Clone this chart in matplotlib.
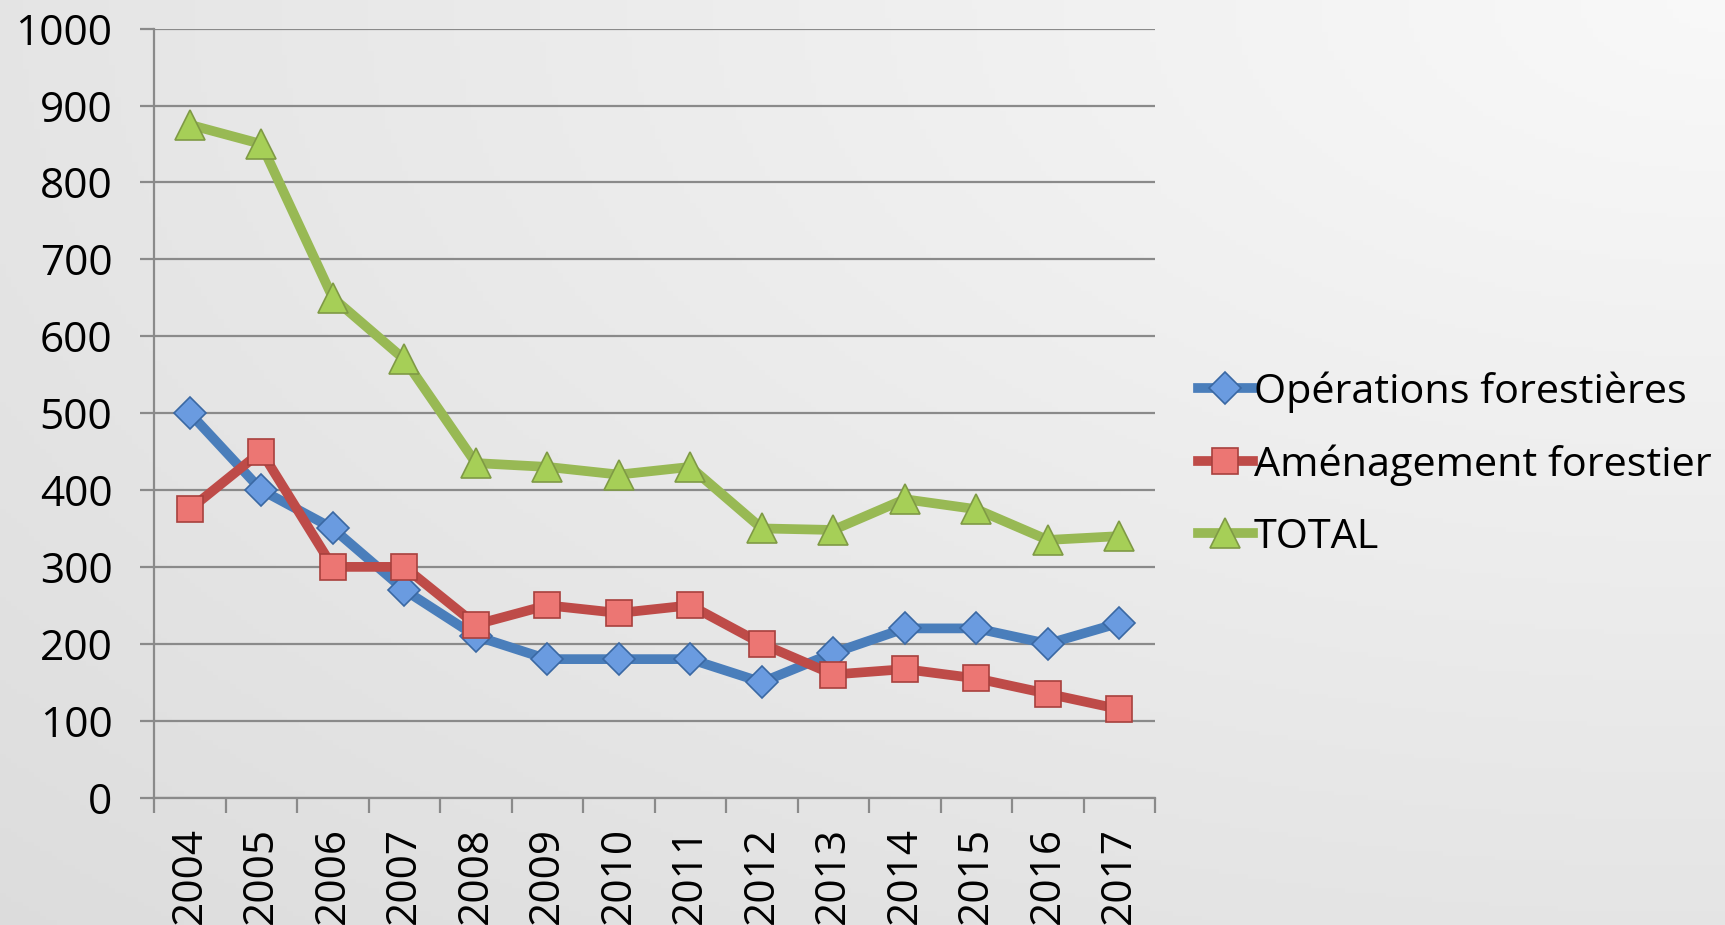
import matplotlib
matplotlib.use("Agg")
import matplotlib.pyplot as plt
import numpy as np
from matplotlib.ticker import MultipleLocator, FixedLocator, NullFormatter

years = ["2004", "2005", "2006", "2007", "2008", "2009", "2010",
         "2011", "2012", "2013", "2014", "2015", "2016", "2017"]
operations = [500, 400, 350, 270, 210, 180, 180, 180, 150, 188, 220, 220, 200, 227]
amenagement = [375, 450, 300, 300, 225, 250, 240, 250, 200, 160, 167, 155, 135, 115]
total = [875, 850, 650, 570, 435, 430, 420, 430, 350, 348, 388, 375, 335, 340]
series_names = ["Opérations forestières", "Aménagement forestier", "TOTAL"]

plt.rcParams['font.family'] = ['Open Sans', 'DejaVu Sans']

fig = plt.figure(figsize=(17.25, 9.25), dpi=100)

# background gradient
bg = fig.add_axes([0, 0, 1, 1], zorder=-10)
xx, yy = np.meshgrid(np.linspace(0, 1, 300), np.linspace(0, 1, 200))
d = np.sqrt(((1 - xx) * 1.0) ** 2 + (yy * 1.0) ** 2) / np.sqrt(2)
shade = 0.975 - 0.11 * d
img = np.dstack([shade, shade, shade])
bg.imshow(img, aspect='auto', extent=[0, 1, 0, 1], origin='upper')
bg.axis('off')

ax = fig.add_axes([0.0893, 0.1378, 0.6696 - 0.0893, 0.969 - 0.1378])
ax.patch.set_alpha(0)

x = np.arange(len(years))
styles = [
    dict(data=operations, color="#4a7ebb", marker="D", mfc="#6a9be0", mec="#3a68a3", ms=16),
    dict(data=amenagement, color="#be4b48", marker="s", mfc="#ec7673", mec="#a8403d", ms=19),
    dict(data=total, color="#98b954", marker="^", mfc="#a6cf57", mec="#7f9a45", ms=21),
]
for name, st in zip(series_names, styles):
    ax.plot(x, st["data"], color=st["color"], lw=7, marker=st["marker"],
            markersize=st["ms"], markerfacecolor=st["mfc"], markeredgecolor=st["mec"],
            markeredgewidth=1.2, label=name, solid_joinstyle='miter', zorder=3)

ax.set_xlim(-0.5, len(years) - 0.5)
ax.set_ylim(0, 1000)
ax.yaxis.set_major_locator(MultipleLocator(100))
ax.grid(axis='y', color='#8a8a8a', lw=1.6, zorder=0)
for s in ['top', 'right']:
    ax.spines[s].set_visible(False)
for s in ['left', 'bottom']:
    ax.spines[s].set_color('#8a8a8a')
    ax.spines[s].set_linewidth(1.6)

ax.set_xticks(x)
ax.set_xticklabels(years, rotation=90, fontsize=30.5)
ax.xaxis.set_minor_locator(FixedLocator(np.arange(-0.5, len(years), 1.0)))
ax.xaxis.set_minor_formatter(NullFormatter())
ax.tick_params(axis='x', which='major', length=0, pad=21)
ax.tick_params(axis='x', which='minor', length=11, width=1.6, color='#8a8a8a')
ax.tick_params(axis='y', which='major', length=10, width=1.6, color='#8a8a8a',
               labelsize=30.5, pad=20)

leg = ax.legend(loc='center left', bbox_to_anchor=(1.026, 0.433), frameon=False,
                fontsize=29.8, handlelength=1.33, handletextpad=0.03,
                labelspacing=0.76, borderaxespad=0)

fig.savefig("out.png", dpi=100)
